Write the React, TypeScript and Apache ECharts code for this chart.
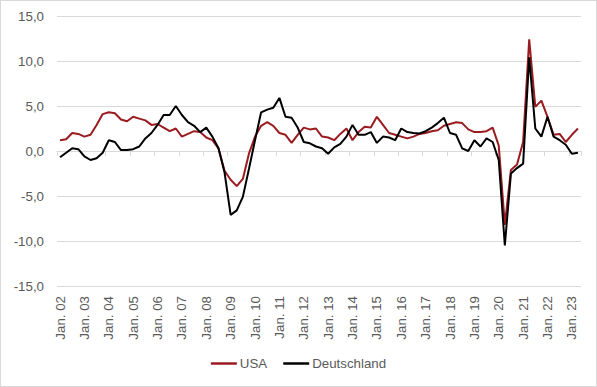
import React, { useEffect, useRef } from "react";
import * as echarts from "echarts";

const years = ["02","03","04","05","06","07","08","09","10","11","12","13","14","15","16","17","18","19","20","21","22","23"];
const quarterMonths = ["Jan.", "Apr.", "Jul.", "Okt."];
const categories: string[] = [];
years.forEach((y) => quarterMonths.forEach((m) => categories.push(`${m} ${y}`)));
categories.length = 86;

const usa = [
  1.2, 1.3, 2.0, 1.9, 1.6, 1.8, 2.9, 4.1, 4.3, 4.2, 3.5, 3.3,
  3.8, 3.6, 3.4, 2.9, 3.0, 2.6, 2.2, 2.5, 1.6, 1.9, 2.2, 2.1,
  1.5, 1.2, 0.3, -2.2, -3.2, -3.9, -3.1, -0.3, 1.6, 2.8, 3.2, 2.8,
  2.0, 1.8, 0.9, 1.8, 2.6, 2.4, 2.5, 1.6, 1.5, 1.2, 1.9, 2.5,
  1.2, 2.1, 2.7, 2.6, 3.8, 2.9, 2.0, 1.8, 1.6, 1.4, 1.6, 1.9,
  2.0, 2.2, 2.3, 2.8, 3.0, 3.2, 3.1, 2.4, 2.1, 2.1, 2.2, 2.6,
  0.6, -8.2, -2.1, -1.5, 1.0, 12.4, 4.9, 5.6, 3.8, 1.8, 1.9, 1.0, 1.8, 2.5,
];

const deutschland = [
  -0.7, -0.2, 0.3, 0.2, -0.6, -1.0, -0.8, -0.2, 1.2, 1.0, 0.1, 0.1,
  0.2, 0.5, 1.4, 2.0, 2.9, 4.0, 4.0, 5.0, 4.0, 3.2, 2.8, 2.1,
  2.6, 1.6, 0.3, -2.4, -7.1, -6.6, -5.1, -2.0, 1.2, 4.3, 4.6, 4.8,
  5.9, 3.8, 3.7, 2.6, 1.0, 0.85, 0.5, 0.3, -0.3, 0.4, 0.8, 1.6,
  2.9, 1.8, 1.8, 2.1, 0.9, 1.6, 1.5, 1.2, 2.5, 2.1, 2.0, 1.95,
  2.2, 2.6, 3.1, 3.7, 2.0, 1.8, 0.3, 0.0, 1.2, 0.5, 1.4, 1.0,
  -1.0, -10.5, -2.5, -1.9, -1.4, 10.4, 2.5, 1.6, 3.8, 1.6, 1.2, 0.7, -0.3, -0.2,
];

const FONT = "Liberation Sans, Arial, sans-serif";
const TEXT = "#595959";
const GRID = "#d9d9d9";

export default function App() {
  const ref = useRef<HTMLDivElement>(null);
  useEffect(() => {
    document.body.style.margin = "0";
    const chart = echarts.init(ref.current!, null, { renderer: "svg" });
    chart.setOption({
      animation: false,
      backgroundColor: "#ffffff",
      textStyle: { fontFamily: FONT },
      grid: { left: 56, right: 15, top: 15, bottom: 100, containLabel: false },
      legend: {
        bottom: 11,
        left: "center",
        icon: "rect",
        itemWidth: 26,
        itemHeight: 2.5,
        itemGap: 16,
        textStyle: { color: TEXT, fontSize: 13.3, fontFamily: FONT, padding: [0, 0, 0, -2] },
        data: ["USA", "Deutschland"],
      },
      xAxis: [
        {
          type: "category",
          data: categories,
          boundaryGap: true,
          position: "bottom",
          axisLine: { show: false, onZero: false },
          axisTick: { show: false },
          axisLabel: {
            interval: 3,
            rotate: 90,
            margin: 10,
            color: TEXT,
            fontSize: 13.3,
            fontFamily: FONT,
          },
          splitLine: { show: false },
        },
        {
          type: "category",
          data: categories,
          boundaryGap: true,
          position: "bottom",
          axisLine: { show: true, onZero: true, lineStyle: { color: GRID, width: 1 } },
          axisTick: { show: true, interval: 3, length: 5, lineStyle: { color: GRID } },
          axisLabel: { show: false },
          splitLine: { show: false },
        },
      ],
      yAxis: {
        type: "value",
        min: -15,
        max: 15,
        interval: 5,
        axisLine: { show: false },
        axisTick: { show: false },
        axisLabel: {
          color: TEXT,
          fontSize: 13.3,
          fontFamily: FONT,
          margin: 13,
          formatter: (v: number) => v.toFixed(1).replace(".", ","),
        },
        splitLine: { lineStyle: { color: GRID, width: 1 } },
      },
      series: [
        {
          name: "USA",
          type: "line",
          xAxisIndex: 0,
          data: usa,
          symbol: "none",
          lineStyle: { color: "#9B1C20", width: 2 },
          itemStyle: { color: "#9B1C20" },
        },
        {
          name: "Deutschland",
          type: "line",
          xAxisIndex: 0,
          data: deutschland,
          symbol: "none",
          lineStyle: { color: "#000000", width: 2 },
          itemStyle: { color: "#000000" },
        },
      ],
    });
    return () => chart.dispose();
  }, []);
  return (
    <div
      style={{
        position: "absolute",
        left: 0,
        top: 0,
        width: 597,
        height: 387,
        boxSizing: "border-box",
        border: "1px solid #d9d9d9",
        background: "#fff",
      }}
    >
      <div ref={ref} style={{ width: 595, height: 385 }} />
    </div>
  );
}
